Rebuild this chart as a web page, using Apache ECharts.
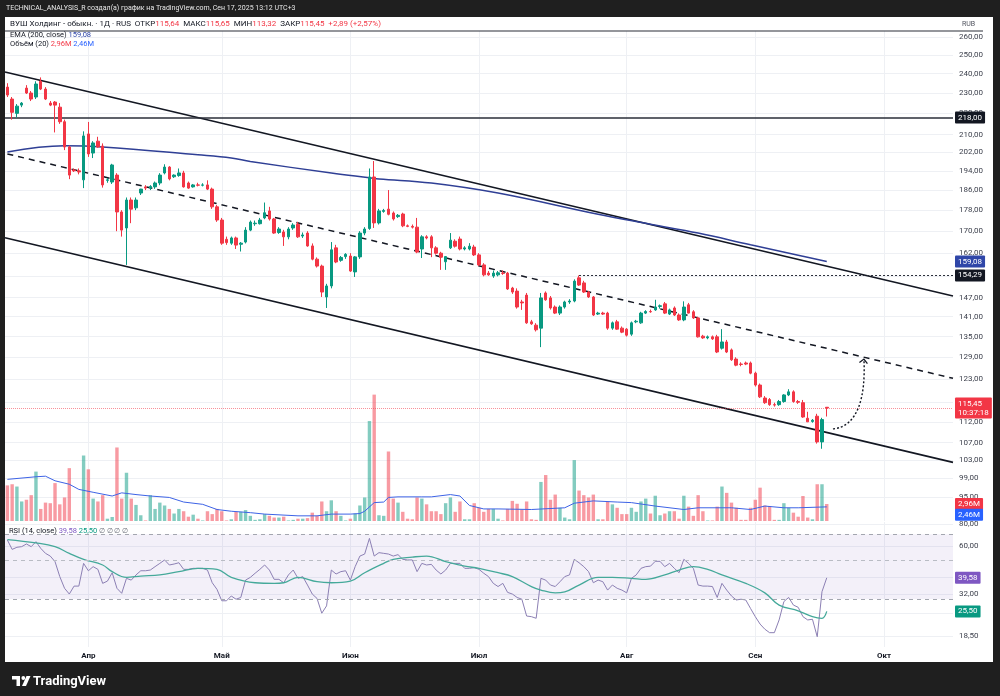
<!DOCTYPE html>
<html>
<head>
<meta charset="utf-8">
<script src="https://cdn.jsdelivr.net/npm/echarts@6/dist/echarts.min.js"></script>
<style>
  html, body { margin: 0; height: 100%; background: #1f1f1f; }
  #chart { width: 1000px; height: 696px; }
</style>
</head>
<body>
<div id="chart"></div>
<script>
// calendar: daily bars incl. weekend sessions, holidays/no-session days skipped
var startDate = '2025-03-15';
var skipDates = ['2025-04-05', '2025-04-06', '2025-05-01', '2025-05-02', '2025-05-08', '2025-05-09',
    '2025-06-12', '2025-06-13', '2025-06-14', '2025-08-02', '2025-08-03', '2025-08-09', '2025-08-10',
    '2025-09-07', '2025-09-21', '2025-09-28'];
var barCount = 199;
var monthNames = ['Янв', 'Фев', 'Мар', 'Апр', 'Май', 'Июн', 'Июл', 'Авг', 'Сен', 'Окт', 'Ноя', 'Дек'];

// [open, high, low, close]
var candles = [
    [233,235,228,229],[227,228,217,220.5],[220,224.5,218,223.5],[224,225.5,223,225],[232.5,234,229.5,230],
    [230,231,226,227],[228,236,227,234.6],[236,238,231.5,232],[232,233,226.5,227],[225,226,223.5,224],
    [225.5,226,211,224],[223,225,215,216],[216,217,203,204.4],[204.4,205,190.5,192.2],[194.4,195,193.5,194],
    [194,195,192.5,193.5],[190.2,211.5,186.8,209.4],[210.3,215.9,200,201.3],[201.7,207,199.5,206.2],[207,209,204,204.4],
    [204.8,206,187,188.1],[190,191,189,190.2],[189.3,197,188.5,196.5],[192.2,193,170,177.3],[177.3,178,168,170.4],
    [171.2,183,157.9,182],[182,183,173,178.4],[178.9,183,178,182],[184.8,186.5,184,186.4],[187.3,188,186,186.8],
    [186.8,188,186,187.5],[187.3,189.5,186.5,188.9],[188.9,193,188,192.2],[193.1,196.8,192.5,195.6],[195.6,196,190,190.6],
    [191.5,192.5,191,192.2],[192,195,191.5,193.1],[193.1,194,187,187.3],[188.9,189.5,186.5,186.8],[187.3,188.5,187,188.1],
    [188.1,189,187.5,188],[188,188.8,187.5,188.1],[188.1,190,186,186.4],[186.4,187,178.5,179.3],[179.3,180,173.5,174.2],
    [174.2,175,165,165.6],[167,168,165,165.8],[165.6,168,165,167.5],[167.5,168,163.5,164.9],[165.2,166,162.6,165.6],
    [166,171.5,165.5,170.4],[170.4,174,170,173.4],[172.8,174,172,173],[172.8,175,172.5,174.2],[175,181,174.5,177],
    [177.7,179.3,174,174.6],[174.6,175,169,169.3],[169.5,171.5,169,170.8],[169.7,170.5,164.6,167.9],[167.9,171.5,167,170.8],
    [171.2,173,170.5,172.3],[172.6,173.5,167.5,167.9],[168.2,169.5,167.5,168.6],[169.3,170,164.3,164.6],[164.6,165.5,159.5,159.9],
    [159.9,160.5,157,157.5],[157.5,158,147.2,148.8],[147.2,151.5,143.7,150.8],[150.8,166,150,163.2],[163.9,165,158.5,158.9],
    [159.5,161,159,160.5],[160.8,162,160,161.6],[161,162,155.5,155.8],[155.5,161,153.8,160.7],[160.7,170,160,169.3],
    [169.3,171.5,168.5,170.8],[171,195,170.5,191.4],[191.4,198.2,171.2,173.1],[173.1,178.5,172.5,177.7],[177.5,178.5,177,177.9],
    [178.4,186,176,176.4],[176.9,177.5,174,174.6],[175.5,176.5,175,176],[176.5,177,171.5,172],[172,172.5,171.5,171.8],
    [171.8,172.5,171,171.5],[171.5,175,162,162.4],[163.5,168.5,160.3,167.9],[167.9,168.5,167,167.5],[167.9,168.5,160.6,163.9],
    [163.9,164.5,161.5,162],[162,162.5,156.2,160.6],[159,161,156.2,160.8],[163.9,169.3,163.5,166.7],[166.3,167,164,164.5],
    [167.1,168,163,163.5],[163.5,164.5,163,163.9],[163.5,165.6,163,164.5],[164.2,165,161,161.4],[161.4,162,157.5,157.9],
    [157.9,158.5,154,154.5],[155.1,155.8,154.2,154.5],[154.1,156,153.5,155.1],[154.5,155.8,154,155.2],[155.1,156,154.5,155],
    [155.1,155.5,149.5,149.8],[150.1,150.5,148.2,148.8],[149.1,150,143.5,144],[145.6,146.3,143.1,145.3],[147.8,148.5,138.8,139.1],
    [139.4,140,138.5,138.8],[138.4,139,136.5,137],[137.5,148.5,131.9,146.9],[148.5,149,146,146.3],[146.9,147.5,143.2,143.7],
    [144,144.5,141.8,142.1],[142.1,144.5,141.5,144],[144,146,143.5,145.6],[145.6,146.5,145,145.9],[145.9,153,145.5,152.4],
    [153.5,154.29,150.8,151.1],[151.8,152.5,148.5,148.8],[148.8,149.2,146.9,147.2],[147.2,147.5,141.2,141.5],[141.8,142.5,141.5,142.1],
    [142.1,142.5,141.5,141.8],[142.1,142.5,137,137.5],[137.5,139.5,137,139.1],[139.4,140,137,137.2],[137.5,138,136,136.3],
    [137.2,137.5,135,135.4],[135.7,139.5,135.2,139.1],[139.4,140,139,139.6],[139.1,142.5,138.8,142.1],[142.1,143,141.8,142.6],
    [142.6,143.2,142.2,142.5],[143.1,146.3,142.8,144],[144.2,144.8,143.5,144.4],[145,145.6,141.8,142.1],[141.8,143.5,141.5,143.1],
    [143.7,144.2,141.2,141.5],[141.5,142,139.7,140],[140,145.8,139.6,144],[144.7,145.3,142,142.1],[142.5,143,140.3,140.6],
    [140.6,141,134.7,134.9],[135.1,135.5,134.3,134.6],[134.6,135.3,134.2,134.9],[134.9,135.3,134,134.3],[134.9,135.5,130.2,130.5],
    [131.6,137.2,131.2,133.4],[133.4,134,130.2,130.5],[131.1,131.5,128,128.3],[128.5,129,126.5,126.8],[127.1,127.6,126.5,127],
    [127.4,127.8,126.8,127.1],[127.4,127.8,124.3,124.6],[124.6,125,121,121.4],[121.4,121.8,118,118.3],[118,118.5,116.5,116.8],
    [117.6,118,116,116.3],[116.3,116.8,115.8,116.2],[116.3,117.5,116,117.1],[117.1,119,116.8,118.8],[118.8,120.3,118.5,119.6],
    [119.6,120,116.8,117.1],[117.1,117.5,116.5,116.9],[116.8,117.5,113,113.2],[112.9,114.5,112,112],[112.1,112.7,111.8,112.4],
    [113.4,114,106.8,107.2],[107.2,113,105.6,112.56],[115.64,115.65,113.32,115.45]
];

// volume, millions
var volumes = [
    6.2, 6.4, 6.0, 3.4, 3.7, 4.5, 8.6, 2.1, 3.2, 3.1,
    6.6, 2.9, 4.1, 9.2, 0.1, 0.1, 11.4, 9.0, 3.9, 3.4,
    4.5, 0.4, 0.7, 12.8, 3.9, 8.4, 3.9, 2.8, 1.0, 0.1,
    4.5, 2.1, 3.2, 2.7, 2.1, 1.3, 2.1, 1.7, 0.75, 1.1,
    0.4, 0.1, 1.7, 1.2, 2.1, 1.7, 0.1, 0.3, 1.6, 1.6,
    1.9, 0.9, 0.2, 0.3, 1.2, 0.9, 0.6, 0.6, 0.75, 0.1,
    0.2, 0.4, 0.4, 0.5, 1.45, 0.9, 3.4, 1.7, 3.6, 1.7,
    0.9, 0.1, 0.4, 1.3, 2.7, 4.1, 17.4, 22.0, 1.0, 0.9,
    12.1, 3.9, 3.2, 1.6, 0.4, 0.3, 4.1, 3.9, 2.9, 1.7,
    1.7, 1.2, 3.1, 4.1, 1.6, 3.4, 0.3, 0.3, 3.1, 2.3,
    1.6, 2.1, 2.1, 0.4, 0.1, 2.1, 3.5, 3.0, 2.0, 3.4,
    0.3, 0.2, 6.8, 8.0, 3.7, 4.6, 2.3, 0.6, 0.3, 10.6,
    5.3, 4.5, 4.1, 4.6, 0.3, 0.3, 3.4, 2.9, 2.3, 1.2,
    1.2, 2.3, 1.6, 3.4, 3.9, 1.3, 4.4, 1.0, 1.3, 1.7,
    1.7, 0.4, 4.4, 2.5, 0.9, 4.5, 1.7, 0.1, 0.1, 2.5,
    6.0, 4.9, 3.2, 2.3, 0.2, 0.2, 2.3, 3.7, 5.8, 2.7,
    2.6, 0.2, 0.2, 3.1, 2.3, 1.45, 0.75, 4.35, 0.6, 0.3,
    6.4, 6.4, 2.96
];

var rsiValues = [
    64.9, 57.4, 59.0, 59.5, 61.6, 59.5, 63.5, 58.2, 54.5, 52.6,
    48.9, 40.2, 34.5, 32.0, 35.5, 35.5, 47.8, 43.4, 45.8, 44.2,
    36.8, 37.9, 42.3, 34.5, 32.3, 39.3, 38.4, 41.1, 43.4, 43.4,
    43.8, 45.8, 47.8, 50.0, 46.8, 47.4, 48.2, 44.2, 44.2, 44.8,
    44.8, 44.8, 43.8, 37.1, 34.0, 29.3, 29.3, 31.2, 29.9, 30.6,
    38.4, 39.8, 42.0, 44.2, 46.8, 43.8, 38.8, 38.8, 37.1, 41.1,
    43.8, 39.3, 40.2, 36.0, 32.0, 30.2, 24.9, 27.4, 43.8, 41.6,
    42.9, 43.4, 38.4, 45.8, 52.6, 54.0, 66.3, 52.6, 55.0, 54.5,
    54.0, 52.6, 53.6, 50.4, 50.0, 50.0, 42.9, 47.8, 46.8, 47.2,
    43.8, 41.6, 43.8, 47.8, 47.8, 47.8, 44.8, 44.8, 45.2, 44.2,
    42.0, 40.2, 36.8, 35.3, 36.8, 32.7, 32.0, 30.6, 29.9, 24.0,
    23.8, 23.3, 39.3, 38.4, 36.0, 35.3, 37.6, 40.2, 41.1, 50.4,
    48.2, 45.8, 42.9, 37.1, 38.4, 37.6, 33.7, 36.0, 34.5, 33.7,
    32.5, 39.3, 41.1, 44.8, 45.8, 46.1, 49.1, 49.1, 45.8, 47.8,
    44.8, 42.3, 50.4, 47.8, 44.8, 36.0, 35.5, 35.5, 35.3, 30.6,
    36.8, 33.7, 31.2, 29.6, 29.9, 29.6, 26.5, 23.8, 21.6, 20.2,
    19.3, 19.3, 22.8, 29.0, 30.6, 27.7, 26.9, 23.8, 22.8, 23.0,
    18.3, 33.0, 39.58
];

// indicator lines read at points along the picture: [bar index, value]
var emaPoints = [[0,202.2],[12,204.9],[20,204.4],[40,200.9],[47,199.5],[51,198],[68,193.1],[76,191.1],[78,190.6],
    [89,188.9],[103,184.8],[124,176.4],[135,172.6],[145,169.3],[156,165.0],[166,161.3],[172,159.08]];
var volMaPoints = [[0,7.25],[6,7.7],[8,7.8],[10,7.0],[13,6.4],[15,5.5],[18,5.0],[22,4.35],[24,4.9],[27,4.6],[30,4.35],
    [34,4.1],[37,3.3],[41,2.9],[44,2.0],[47,1.7],[51,1.45],[54,1.2],[61,0.9],[65,0.9],[68,1.2],[72,1.2],[74,1.3],
    [75,1.7],[77,3.2],[79,3.3],[80,4.1],[82,4.2],[87,4.2],[89,4.2],[93,4.6],[95,4.35],[97,2.7],[100,2.1],[103,2.1],
    [110,2.0],[117,2.3],[119,3.1],[123,3.5],[128,3.3],[131,3.2],[136,2.6],[142,2.0],[145,2.3],[152,2.3],[156,2.0],
    [159,2.6],[163,2.3],[166,2.3],[172,2.46]];
var rsiMaPoints = [[0,65.3],[6,62.5],[10,59.5],[13,54.5],[16,50.4],[20,46.8],[22,42.9],[25,39.8],[28,40.5],[32,41.1],
    [36,42.9],[40,44.8],[44,44.2],[47,39.8],[52,37.1],[56,36.8],[58,37.1],[61,39.8],[65,37.6],[68,37.1],[72,37.9],
    [75,42.3],[79,47.8],[81,50.4],[85,51.9],[88,52.6],[92,48.9],[96,46.1],[99,44.8],[103,42.3],[106,40.2],[110,35.3],
    [112,33.7],[115,32.5],[117,32.9],[120,36.0],[124,39.8],[127,39.8],[131,39.3],[134,38.8],[138,41.1],[141,43.8],
    [144,45.8],[147,44.2],[150,41.1],[155,36.8],[159,32.5],[162,27.7],[166,25.7],[169,23.8],[171,23.3],[172,25.5]];

// drawings (bar index, price)
var channelUpper = [[-0.5, 240.8], [198.5, 147.5]];
var channelMiddle = [[0, 201.3], [198.5, 123.2]];
var channelLower = [[-0.5, 167.6], [198.5, 102.5]];
var level218 = 218;
var julyHigh = [120, 154.29];
var arrowPath = [[173.3, 110.3], [178.6, 110.8], [180.2, 118.5], [179.8, 128.5]];

var priceTicks = [95, 99, 103, 107, 112, 117, 123, 129, 135, 141, 147, 154, 162, 170, 178, 186, 194, 202, 210, 220, 230, 240, 250, 260];
var rsiTicks = [18.5, 25, 32, 40, 60, 80];

var lastBar = candles[candles.length - 1];
var lastVolume = volumes[volumes.length - 1];
var lastVolMa = volMaPoints[volMaPoints.length - 1][1];
var lastEma = emaPoints[emaPoints.length - 1][1];
var lastRsi = rsiValues[rsiValues.length - 1];
var lastRsiMa = rsiMaPoints[rsiMaPoints.length - 1][1];

var dates = [];
var d = new Date(startDate + 'T00:00:00Z');
while (dates.length < barCount) {
    var ds = d.toISOString().slice(0, 10);
    if (skipDates.indexOf(ds) < 0) dates.push(ds);
    d.setUTCDate(d.getUTCDate() + 1);
}
var monthStarts = [];
for (var i = 1; i < dates.length; i++) {
    if (dates[i].slice(5, 7) !== dates[i - 1].slice(5, 7)) monthStarts.push(i);
}

var upColor = '#089981';
var downColor = '#f23645';
var gridColor = '#eef0f4';
var FONT = 'Roboto';
var HIDDEN_LINE = { color: 'rgba(0,0,0,0)', width: 1 };

function fmt(v) {
    return (Math.round(v * 100) / 100).toFixed(2).replace('.', ',');
}

function badge(text, bg, offset) {
    return {
        show: true, position: 'end', distance: 2, formatter: text,
        color: '#fff', backgroundColor: bg, padding: [2, 3, 1, 3],
        fontSize: 8, fontFamily: FONT, lineHeight: 9, borderRadius: 1,
        offset: offset || [0, 0]
    };
}

function rt(color, size) {
    return { fill: color, color: color, fontSize: size || 7.5, fontFamily: FONT };
}

var chart = echarts.init(document.getElementById('chart'));

var option = {
    backgroundColor: '#1f1f1f',
    animation: false,
    textStyle: { fontFamily: FONT },
    graphic: [
        { type: 'rect', id: 'panel', silent: true, z: -10, shape: { x: 5, y: 17, width: 988, height: 645 }, style: { fill: '#ffffff' } },
        { type: 'text', id: 'author', x: 6, y: 8, z: 100, style: {
            text: 'TECHNICAL_ANALYSIS_R создал(а) график на TradingView.com, Сен 17, 2025 13:12 UTC+3',
            fill: '#e8e8e8', fontSize: 7, fontFamily: FONT, verticalAlign: 'middle' } },
        { type: 'text', id: 'symbol', x: 10, y: 24, z: 100, style: {
            text: '{k|ВУШ Холдинг - обыкн. · 1Д · RUS  ОТКР}{r|' + fmt(lastBar[0]) + '}{k|  МАКС}{r|' + fmt(lastBar[1]) +
                '}{k|  МИН}{r|' + fmt(lastBar[2]) + '}{k|  ЗАКР}{r|' + fmt(lastBar[3]) + '  +2,89 (+2,57%)}',
            verticalAlign: 'middle',
            rich: { k: rt('#131722', 8), r: rt(downColor, 8) } } },
        { type: 'line', id: 'topline', silent: true, z: 100, shape: { x1: 5, y1: 31, x2: 983, y2: 31 }, style: { stroke: '#2a2e39', lineWidth: 1.2 } },
        { type: 'text', id: 'rub', x: 962, y: 24, z: 100, style: { text: 'RUB', fill: '#50535e', fontSize: 7, fontFamily: FONT, verticalAlign: 'middle' } },
        { type: 'text', id: 'emaTitle', x: 10, y: 35, z: 100, style: {
            text: '{k|EMA (200, close) }{b|' + fmt(lastEma) + '}', verticalAlign: 'middle',
            rich: { k: rt('#131722'), b: rt('#2f46a8') } } },
        { type: 'text', id: 'volTitle', x: 10, y: 44, z: 100, style: {
            text: '{k|Объём (20) }{r|' + fmt(lastVolume) + 'M}{k| }{b|' + fmt(lastVolMa) + 'M}', verticalAlign: 'middle',
            rich: { k: rt('#131722'), r: rt(downColor), b: rt('#2962ff') } } },
        { type: 'text', id: 'rsiTitle', x: 9, y: 531, z: 100, style: {
            text: '{k|RSI (14, close) }{p|' + fmt(lastRsi) + '}{k| }{g|' + fmt(lastRsiMa) + '}{n| ∅ ∅ ∅ ∅}', verticalAlign: 'middle',
            rich: { k: rt('#131722'), p: rt('#7e57c2'), g: rt(upColor), n: rt('#6a6d78', 7) } } },
        { type: 'rect', id: 'logo1', silent: true, z: 100, shape: { x: 12, y: 676, width: 8, height: 3.5 }, style: { fill: '#fff' } },
        { type: 'rect', id: 'logo2', silent: true, z: 100, shape: { x: 16.5, y: 676, width: 3.5, height: 10 }, style: { fill: '#fff' } },
        { type: 'circle', id: 'logo3', silent: true, z: 100, shape: { cx: 23.3, cy: 678, r: 1.9 }, style: { fill: '#fff' } },
        { type: 'polygon', id: 'logo4', silent: true, z: 100, shape: { points: [[26.5, 676], [30.5, 676], [26, 686], [22, 686]] }, style: { fill: '#fff' } },
        { type: 'text', id: 'logoText', x: 33, y: 681.5, z: 100, style: { text: 'TradingView', fill: '#ffffff', fontSize: 13, fontWeight: 'bold', fontFamily: FONT, verticalAlign: 'middle' } }
    ],
    grid: [
        { left: 5, right: 47, top: 31, height: 490 },
        { left: 5, right: 47, top: 522, height: 125 }
    ],
    xAxis: [
        { type: 'value', gridIndex: 0, min: -0.5, max: barCount - 0.5,
          axisLine: { show: false }, axisTick: { show: false, customValues: monthStarts },
          axisLabel: { show: false }, splitLine: { show: true, lineStyle: { color: gridColor } } },
        { type: 'value', gridIndex: 1, min: -0.5, max: barCount - 0.5,
          axisLine: { show: false }, axisTick: { show: false, customValues: monthStarts },
          axisLabel: { customValues: monthStarts, fontSize: 8, fontWeight: 'bold', color: '#131722', margin: 5,
              formatter: function (v) { return monthNames[parseInt(dates[Math.round(v)].slice(5, 7), 10) - 1]; } },
          splitLine: { show: true, lineStyle: { color: gridColor } } }
    ],
    yAxis: [
        { type: 'log', gridIndex: 0, position: 'right', min: 90.16, max: 263.44,
          axisLine: { show: false }, axisTick: { show: false, customValues: priceTicks },
          axisLabel: { customValues: priceTicks, formatter: fmt, fontSize: 8, color: '#3b3f4b', margin: 6 },
          splitLine: { show: true, lineStyle: { color: gridColor } } },
        { type: 'value', gridIndex: 0, min: 0, max: 85.3, show: false, splitLine: { show: false } },
        { type: 'log', gridIndex: 1, position: 'right', min: 16.0, max: 82.15,
          axisLine: { show: false }, axisTick: { show: false, customValues: rsiTicks },
          axisLabel: { customValues: rsiTicks, fontSize: 8, color: '#3b3f4b', margin: 6,
              formatter: function (v) { var r = Math.round(v * 10) / 10; return (r === 40 || r === 25) ? '' : fmt(v); } },
          splitLine: { show: true, lineStyle: { color: gridColor } } }
    ],
    series: [
        {
            name: 'volume', type: 'bar', xAxisIndex: 0, yAxisIndex: 1, barWidth: 3.4, z: 1, silent: true,
            data: volumes.map(function (v, i) {
                var up = candles[i][3] >= candles[i][0];
                return { value: [i, v], itemStyle: { color: up ? 'rgba(8,153,129,0.5)' : 'rgba(242,54,69,0.5)' } };
            }),
            markLine: { symbol: 'none', silent: true, z: 20, data: [
                { yAxis: lastVolume, lineStyle: HIDDEN_LINE, label: badge(fmt(lastVolume) + 'M', downColor) }
            ] }
        },
        {
            name: 'volMA', type: 'line', xAxisIndex: 0, yAxisIndex: 1, z: 2, silent: true, symbol: 'none',
            data: volMaPoints, lineStyle: { color: '#3d63e6', width: 1 },
            markLine: { symbol: 'none', silent: true, z: 20, data: [
                { yAxis: lastVolMa, lineStyle: HIDDEN_LINE, label: badge(fmt(lastVolMa) + 'M', '#2962ff', [0, 8]) }
            ] }
        },
        {
            name: 'ВУШ', type: 'candlestick', xAxisIndex: 0, yAxisIndex: 0, z: 5, barWidth: 3, silent: true,
            data: candles.map(function (c, i) { return [i, c[0], c[3], c[2], c[1]]; }),
            encode: { x: 0, y: [1, 2, 3, 4] },
            itemStyle: { color: upColor, color0: downColor, borderColor: upColor, borderColor0: downColor, borderWidth: 1 },
            markLine: { symbol: 'none', silent: true, data: [
                { yAxis: level218, lineStyle: { color: '#2a2e39', width: 1.5, type: 'solid' }, label: badge(fmt(level218), '#131722') },
                { yAxis: lastBar[3], lineStyle: { color: 'rgba(242,54,69,0.55)', width: 1, type: 'dotted' },
                  label: badge(fmt(lastBar[3]) + '\n10:37:18', downColor) },
                [ { coord: julyHigh, lineStyle: { color: '#2a2e39', width: 1, type: [2, 2] }, label: badge(fmt(julyHigh[1]), '#131722') },
                  { coord: [barCount - 0.5, julyHigh[1]] } ]
            ] }
        },
        {
            name: 'EMA', type: 'line', xAxisIndex: 0, yAxisIndex: 0, z: 4, silent: true, symbol: 'none', smooth: 0.4,
            data: emaPoints, lineStyle: { color: '#2f3f95', width: 1.5 },
            markLine: { symbol: 'none', silent: true, z: 20, data: [
                { yAxis: lastEma, lineStyle: HIDDEN_LINE, label: badge(fmt(lastEma), '#2f46a8') }
            ] }
        },
        { name: 'upper', type: 'line', xAxisIndex: 0, yAxisIndex: 0, z: 3, silent: true, symbol: 'none',
          data: channelUpper, lineStyle: { color: '#131722', width: 1.6 } },
        { name: 'middle', type: 'line', xAxisIndex: 0, yAxisIndex: 0, z: 3, silent: true, symbol: 'none',
          data: channelMiddle, lineStyle: { color: '#131722', width: 1.5, type: [6, 5] } },
        { name: 'lower', type: 'line', xAxisIndex: 0, yAxisIndex: 0, z: 3, silent: true, symbol: 'none',
          data: channelLower, lineStyle: { color: '#131722', width: 1.6 } },
        {
            name: 'RSI', type: 'line', xAxisIndex: 1, yAxisIndex: 2, z: 4, silent: true, symbol: 'none',
            data: rsiValues.map(function (v, i) { return [i, v]; }),
            lineStyle: { color: '#8c80b4', width: 1 },
            markArea: { silent: true, itemStyle: { color: 'rgba(126,87,194,0.09)' }, data: [[{ yAxis: 70 }, { yAxis: 30 }]] },
            markLine: { symbol: 'none', silent: true, z: 20, data: [
                { yAxis: 70, lineStyle: { color: '#a3a6af', width: 1, type: [4, 4] }, label: { show: false } },
                { yAxis: 50, lineStyle: { color: '#b9bcc4', width: 1, type: [4, 4] }, label: { show: false } },
                { yAxis: 30, lineStyle: { color: '#a3a6af', width: 1, type: [4, 4] }, label: { show: false } },
                { yAxis: lastRsi, lineStyle: HIDDEN_LINE, label: badge(fmt(lastRsi), '#7e57c2') }
            ] }
        },
        {
            name: 'RSI MA', type: 'line', xAxisIndex: 1, yAxisIndex: 2, z: 4, silent: true, symbol: 'none', smooth: 0.4,
            data: rsiMaPoints, lineStyle: { color: '#45a99a', width: 1.3 },
            markLine: { symbol: 'none', silent: true, z: 20, data: [
                { yAxis: lastRsiMa, lineStyle: HIDDEN_LINE, label: badge(fmt(lastRsiMa), upColor) }
            ] }
        }
    ]
};

chart.setOption(option);

// dotted projection arrow drawn in data space
var ap = arrowPath.map(function (p) { return chart.convertToPixel({ xAxisIndex: 0, yAxisIndex: 0 }, p); });
var ex = ap[3][0], ey = ap[3][1];
chart.setOption({
    graphic: [
        { type: 'bezierCurve', id: 'arrowCurve', silent: true, z: 50,
          shape: { x1: ap[0][0], y1: ap[0][1], cpx1: ap[1][0], cpy1: ap[1][1], cpx2: ap[2][0], cpy2: ap[2][1], x2: ex, y2: ey },
          style: { stroke: '#131722', lineWidth: 1.4, lineDash: [2, 2], fill: null } },
        { type: 'polyline', id: 'arrowHead', silent: true, z: 50,
          shape: { points: [[ex - 4.5, ey + 3.5], [ex, ey], [ex + 3.5, ey + 4.5]] },
          style: { stroke: '#131722', lineWidth: 1.3, fill: null } }
    ]
});
</script>
</body>
</html>
